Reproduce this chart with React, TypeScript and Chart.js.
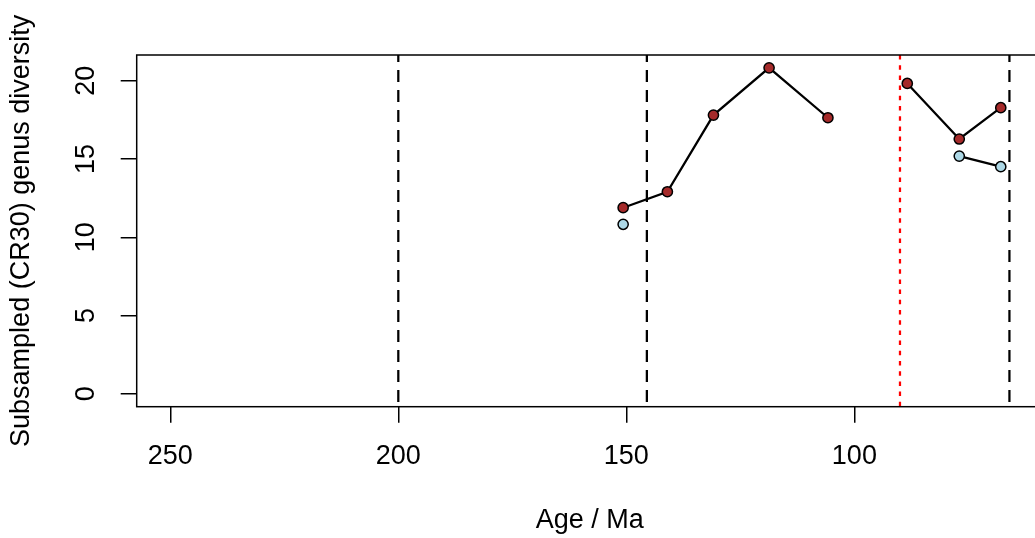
import React, { useEffect, useRef } from "react";
import { Chart, registerables } from "chart.js";

Chart.register(...registerables);

// ---- Data ----
// Interval midpoint ages (Ma); 97.0 is an interval with no value (line break)
const ages = [150.7, 141.0, 130.9, 118.7, 105.8, 97.0, 88.4, 77.0, 67.9];
const allGenera: (number | null)[] = [11.89, 12.91, 17.81, 20.83, 17.64, null, 19.83, 16.28, 18.28];
const subsetGenera: (number | null)[] = [10.83, null, null, null, null, null, null, 15.19, 14.51];

const boundaryAges = [200, 145.5, 66];
const markerAges = [90];

const xTickValues = [250, 200, 150, 100];
const yTickValues = [0, 5, 10, 15, 20];

const xLabel = "Age / Ma";
const yLabel = "Subsampled (CR30) genus diversity";

const X_MIN = 58.64;
const X_MAX = 257.36;
const Y_MIN = -0.83;
const Y_MAX = 21.65;

const FONT_FAMILY = "'Liberation Sans', Arial, Helvetica, sans-serif";

export default function App() {
  const canvasRef = useRef<HTMLCanvasElement | null>(null);

  useEffect(() => {
    const canvas = canvasRef.current;
    if (!canvas) return;

    const font = { family: FONT_FAMILY, size: 27 };

    const refLinesPlugin = {
      id: "refLines",
      beforeDatasetsDraw(chart: any) {
        const { ctx, chartArea } = chart;
        const xs = chart.scales.x;
        ctx.save();
        ctx.beginPath();
        ctx.rect(chartArea.left, chartArea.top, chartArea.right - chartArea.left, chartArea.bottom - chartArea.top);
        ctx.clip();
        ctx.lineCap = "butt";
        ctx.lineWidth = 2.25;
        ctx.strokeStyle = "#000000";
        ctx.setLineDash([12, 8]);
        ctx.lineDashOffset = 5;
        for (const a of boundaryAges) {
          const px = xs.getPixelForValue(a);
          ctx.beginPath();
          ctx.moveTo(px, chartArea.top);
          ctx.lineTo(px, chartArea.bottom);
          ctx.stroke();
        }
        ctx.strokeStyle = "#FF0000";
        ctx.setLineDash([4.5, 5.7]);
        ctx.lineDashOffset = 0;
        for (const a of markerAges) {
          const px = xs.getPixelForValue(a);
          ctx.beginPath();
          ctx.moveTo(px, chartArea.top);
          ctx.lineTo(px, chartArea.bottom);
          ctx.stroke();
        }
        ctx.restore();
      },
    };

    const boxPlugin = {
      id: "plotBox",
      afterDraw(chart: any) {
        const { ctx, chartArea } = chart;
        ctx.save();
        ctx.lineWidth = 1.5;
        ctx.strokeStyle = "#000000";
        ctx.setLineDash([]);
        ctx.strokeRect(chartArea.left, chartArea.top, chartArea.right - chartArea.left, chartArea.bottom - chartArea.top);
        ctx.restore();
      },
    };

    const pointStyle = {
      showLine: true,
      spanGaps: false,
      borderColor: "#000000",
      borderWidth: 2.25,
      pointBorderColor: "#000000",
      pointBorderWidth: 1.5,
      pointRadius: 5.1,
      pointHoverRadius: 5.1,
    };

    const chart = new Chart(canvas, {
      type: "scatter",
      data: {
        datasets: [
          {
            label: "all",
            data: ages.map((a, i) => ({ x: a, y: allGenera[i] })) as any,
            pointBackgroundColor: "#A52A2A",
            ...pointStyle,
          },
          {
            label: "subset",
            data: ages.map((a, i) => ({ x: a, y: subsetGenera[i] })) as any,
            pointBackgroundColor: "#ADD8E6",
            ...pointStyle,
          },
        ],
      },
      options: {
        animation: false,
        responsive: false,
        events: [],
        layout: { autoPadding: false, padding: { top: 55, right: 2, left: 0, bottom: 0 } },
        plugins: {
          legend: { display: false },
          tooltip: { enabled: false },
        },
        scales: {
          x: {
            type: "linear",
            reverse: true,
            min: X_MIN,
            max: X_MAX,
            afterFit: (s: any) => {
              s.height = 131.3;
            },
            afterBuildTicks: (s: any) => {
              s.ticks = xTickValues.map((v) => ({ value: v }));
            },
            ticks: {
              font,
              color: "#000000",
              padding: 17.2,
              maxRotation: 0,
              autoSkip: false,
            },
            grid: {
              drawOnChartArea: false,
              drawTicks: true,
              tickLength: 16,
              color: "#000000",
              lineWidth: 1.5,
            },
            border: { display: false },
            title: {
              display: true,
              text: xLabel,
              font,
              color: "#000000",
              padding: { top: 0, bottom: 1.2 },
            },
          },
          y: {
            type: "linear",
            min: Y_MIN,
            max: Y_MAX,
            afterFit: (s: any) => {
              s.width = 136.7;
            },
            afterBuildTicks: (s: any) => {
              s.ticks = yTickValues.map((v) => ({ value: v }));
            },
            ticks: {
              font,
              color: "#000000",
              padding: 19.6,
              minRotation: 90,
              maxRotation: 90,
              crossAlign: "center",
              autoSkip: false,
            },
            grid: {
              drawOnChartArea: false,
              drawTicks: true,
              tickLength: 16,
              color: "#000000",
              lineWidth: 1.5,
            },
            border: { display: false },
            title: {
              display: true,
              text: yLabel,
              font,
              color: "#000000",
              padding: { top: 4.9, bottom: 0 },
            },
          },
        },
      } as any,
      plugins: [refLinesPlugin, boxPlugin],
    });

    return () => {
      chart.destroy();
    };
  }, []);

  return (
    <div
      style={{
        position: "fixed",
        left: 0,
        top: 0,
        width: 1035,
        height: 538,
        overflow: "hidden",
        background: "#ffffff",
      }}
    >
      <canvas
        ref={canvasRef}
        width={1045}
        height={538}
        style={{ display: "block", width: 1045, height: 538 }}
      />
    </div>
  );
}
